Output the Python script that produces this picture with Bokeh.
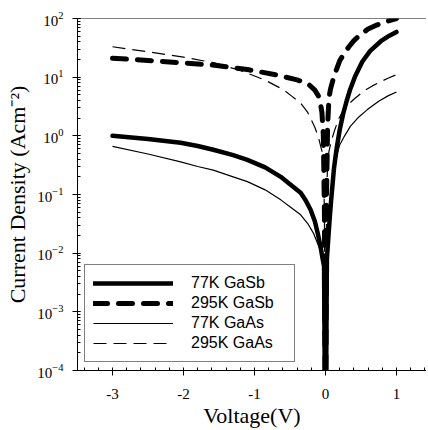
import numpy as np
from bokeh.plotting import figure
from bokeh.models import (Legend, LegendItem, FixedTicker, LogTicker, Span,
                          Range1d, LogTickFormatter)
from bokeh.embed import file_html
from bokeh.resources import INLINE

# ---- data (|J| in A/cm^2 vs V) ----
v_gasb77 = [-3, -2.5, -2.04, -1.8, -1.58, -1.3, -1.1, -0.85, -0.63, -0.5, -0.35, -0.28,
            -0.21, -0.15, -0.11, -0.07, -0.04, -0.02, 0,
            0.02, 0.04, 0.06, 0.08, 0.1, 0.12, 0.14, 0.16, 0.2, 0.25, 0.3, 0.35,
            0.42, 0.52, 0.63, 0.78, 0.9, 1.0]
j_gasb77 = [1.0, 0.88, 0.76, 0.67, 0.58, 0.47, 0.39, 0.29, 0.2, 0.15, 0.107, 0.08,
            0.055, 0.035, 0.022, 0.013, 0.008, 0.006, 1e-6,
            0.008, 0.018, 0.04, 0.08, 0.15, 0.28, 0.43, 0.64, 1.25, 2.4, 4.0, 6.3,
            10.5, 18.5, 28.0, 41.0, 51.0, 59.0]

v_gasb295 = [-3, -2.5, -2, -1.56, -1.1, -0.7, -0.4, -0.25, -0.15, -0.1, -0.07, -0.05,
             -0.03, -0.015, 0,
             0.015, 0.03, 0.05, 0.07, 0.1, 0.14, 0.2, 0.26, 0.33, 0.4, 0.5, 0.6,
             0.73, 0.85, 1.0]
j_gasb295 = [21.0, 19.3, 17.5, 16.0, 13.5, 11.0, 9.0, 7.8, 6.0, 4.8, 3.5, 2.5,
             1.0, 0.05, 1e-6,
             0.1, 1.5, 4.5, 6.2, 8.5, 12.0, 19.0, 25.0, 33.0, 42.0, 54.0, 66.0,
             78.0, 88.0, 100.0]

v_gaas77 = [-3, -2.5, -2.04, -1.8, -1.58, -1.3, -1.1, -0.85, -0.63, -0.5, -0.35,
            -0.25, -0.17, -0.07, -0.03, 0,
            0.02, 0.05, 0.08, 0.11, 0.15, 0.2, 0.27, 0.35, 0.47, 0.59, 0.75, 0.88, 1.0]
j_gaas77 = [0.66, 0.49, 0.36, 0.3, 0.26, 0.2, 0.166, 0.12, 0.081, 0.062, 0.045,
            0.032, 0.022, 0.011, 0.008, 1e-6,
            0.009, 0.04, 0.12, 0.25, 0.42, 0.7, 1.0, 1.45, 2.1, 2.8, 3.9, 4.8, 5.6]

v_gaas295 = [-3, -2.5, -2, -1.56, -1.2, -0.86, -0.6, -0.48, -0.35, -0.25, -0.15, -0.1,
             -0.05, -0.03, -0.015, 0,
             0.015, 0.03, 0.05, 0.08, 0.13, 0.19, 0.25, 0.32, 0.4, 0.54, 0.66, 0.77,
             0.88, 1.0]
j_gaas295 = [33.0, 27.0, 22.0, 17.5, 13.0, 9.0, 6.2, 4.8, 3.6, 2.5, 1.4, 0.95,
             0.55, 0.35, 0.05, 1e-6,
             0.08, 0.35, 0.55, 0.8, 1.26, 2.0, 2.7, 3.4, 4.2, 5.8, 7.1, 8.3,
             9.6, 11.0]

labels = ["77K GaSb", "295K GaSb", "77K GaAs", "295K GaAs"]
x_ticks = [-3, -2, -1, 0, 1]
x_tick_labels = {-3: "-3", -2: "-2", -1: "-1", 0: "0", 1: "1"}

p = figure(width=426, height=430, output_backend="svg", toolbar_location=None,
           y_axis_type="log",
           x_range=Range1d(-3.493, 1.423), y_range=Range1d(1e-4, 1e2),
           min_border_left=77, min_border_right=0, min_border_top=18,
           min_border_bottom=60)
p.outline_line_color = None
p.grid.visible = False
p.background_fill_color = "white"
p.border_fill_color = "white"

r1 = p.line(v_gasb77, j_gasb77, line_color="black", line_width=4.5,
            line_cap="round", line_join="round")
r2 = p.line(v_gasb295, j_gasb295, line_color="black", line_width=5,
            line_dash="14 11", line_cap="round", line_join="round")
r3 = p.line(v_gaas77, j_gaas77, line_color="black", line_width=1.2)
r4 = p.line(v_gaas295, j_gaas295, line_color="black", line_width=1.2,
            line_dash="13 7")

p.add_layout(Span(location=1e2, dimension="width", line_color="black",
                  line_width=1))

# axes
xa = p.xaxis[0]
xa.ticker = FixedTicker(ticks=x_ticks,
                        minor_ticks=list(np.round(np.arange(-3.4, 1.41, 0.2), 2)))
xa.major_label_overrides = x_tick_labels
xa.axis_label = "Voltage(V)"
ya = p.yaxis[0]
ya.ticker = LogTicker(num_minor_ticks=10)
ya.formatter = LogTickFormatter()
ya.axis_label = "Current Density (Acm⁻²)"

for ax in (xa, ya):
    ax.axis_line_color = "black"
    ax.major_tick_line_color = "black"
    ax.minor_tick_line_color = "black"
    ax.major_tick_out = 5
    ax.major_tick_in = 0
    ax.minor_tick_out = 0
    ax.minor_tick_in = 3
    ax.major_label_text_font = "Liberation Serif"
    ax.major_label_text_font_size = "15px"
    ax.major_label_text_color = "black"
    ax.axis_label_text_font = "Liberation Serif"
    ax.axis_label_text_font_size = "22px"
    ax.axis_label_text_font_style = "normal"
    ax.axis_label_text_color = "black"
xa.major_label_standoff = 13
xa.axis_label_standoff = 1
ya.major_label_standoff = 9
ya.axis_label_standoff = 4

legend = Legend(items=[LegendItem(label=labels[0], renderers=[r1]),
                       LegendItem(label=labels[1], renderers=[r2]),
                       LegendItem(label=labels[2], renderers=[r3]),
                       LegendItem(label=labels[3], renderers=[r4])],
                location=(7, 8), orientation="vertical")
legend.label_text_font = "Liberation Sans"
legend.label_text_font_size = "16px"
legend.label_text_color = "black"
legend.glyph_width = 80
legend.glyph_height = 20
legend.label_height = 20
legend.label_standoff = 18
legend.label_width = 95
legend.padding = 8
legend.spacing = 0
legend.margin = 0
legend.border_line_color = "black"
legend.border_line_width = 1
legend.background_fill_alpha = 1
p.add_layout(legend, "center")

open("out.html", "w").write(file_html(p, INLINE))
